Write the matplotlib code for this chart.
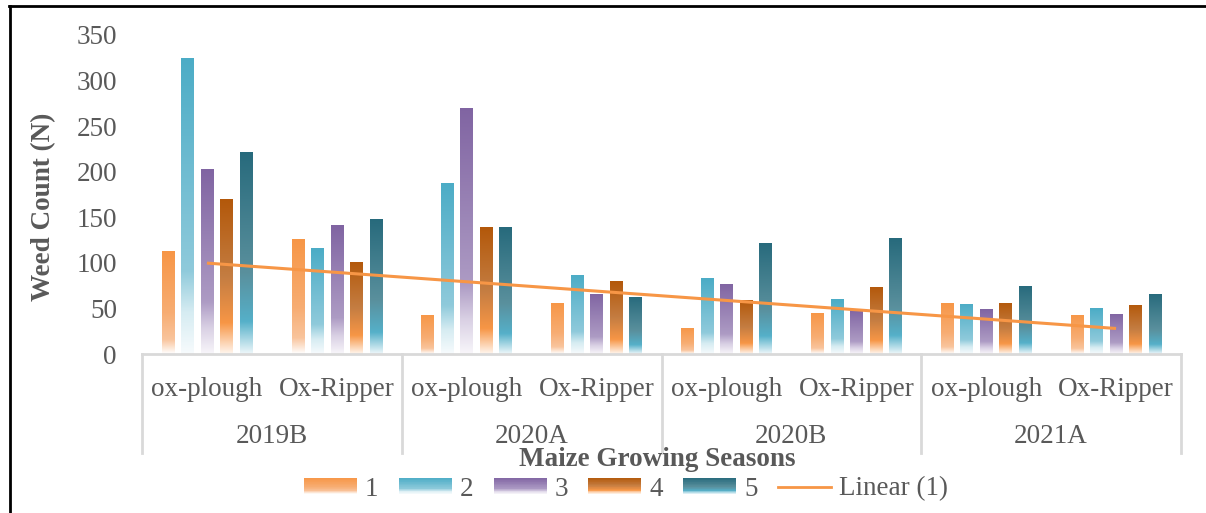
import numpy as np
import matplotlib
matplotlib.use("Agg")
import matplotlib.pyplot as plt
from matplotlib.colors import LinearSegmentedColormap
from matplotlib.lines import Line2D
from matplotlib.patches import Rectangle
from matplotlib.legend_handler import HandlerBase

# ---- data ----
seasons = ["2019B", "2020A", "2020B", "2021A"]
implements = ["ox-plough", "Ox-Ripper"]
series_names = ["1", "2", "3", "4", "5"]
s1 = [113, 126, 43, 56, 29, 45, 56, 43]
s2 = [325, 116, 188, 87, 83, 60, 55, 50]
s3 = [203, 141, 270, 66, 77, 49, 49, 44]
s4 = [170, 101, 139, 80, 59, 74, 56, 54]
s5 = [222, 148, 139, 63, 122, 127, 75, 66]
y_ticks = [0, 50, 100, 150, 200, 250, 300, 350]

series = [s1, s2, s3, s4, s5]

# gradient stops (0 = top of bar, 1 = bottom)
gradients = [
    [(0.0, "#F79646"), (0.6, "#F7AD73"), (0.86, "#F9C49C"), (1.0, "#FFFFFF")],
    [(0.0, "#4BACC6"), (0.72, "#8FCADB"), (0.86, "#D6ECF2"), (1.0, "#F7FBFD")],
    [(0.0, "#8064A2"), (0.72, "#AD9BC4"), (0.86, "#D9D0E4"), (1.0, "#F8F6FA")],
    [(0.0, "#B3580A"), (0.5, "#C47D42"), (0.8, "#F79646"), (1.0, "#FFF6EF")],
    [(0.0, "#276A7C"), (0.6, "#5A909D"), (0.84, "#55B0C9"), (1.0, "#EEF7FA")],
]
cmaps = [LinearSegmentedColormap.from_list(f"g{i}", g) for i, g in enumerate(gradients)]
trend_color = "#F79646"
text_color = "#595959"
axis_color = "#D9D9D9"

plt.rcParams["font.family"] = ["Liberation Serif", "DejaVu Serif"]
FS = 19.5

fig = plt.figure(figsize=(12.06, 5.13), dpi=100)
W, H = 1206, 513
ax = fig.add_axes([142 / W, 1 - 354 / H, (1181 - 142) / W, (354 - 35) / H])

n_cat = len(seasons) * len(implements)
x = np.arange(n_cat)
step = 0.15
width = 0.096
grad = np.linspace(0, 1, 256).reshape(-1, 1)

for j, vals in enumerate(series):
    offs = (j - 2) * step
    bars = ax.bar(x + offs, vals, width=width, color="none", edgecolor="none")
    for rect in bars:
        x0 = rect.get_x()
        h = rect.get_height()
        im = ax.imshow(grad, cmap=cmaps[j], aspect="auto",
                       extent=[x0, x0 + rect.get_width(), 0, h],
                       origin="upper", interpolation="bilinear", zorder=2)
        im.set_clip_path(rect)

# linear trend of series 1
coef = np.polyfit(x, s1, 1)
ax.plot(x, np.polyval(coef, x), color=trend_color, lw=2.2, zorder=3,
        solid_capstyle="butt")

ax.set_xlim(-0.5, n_cat - 0.5)
ax.set_ylim(0, 350)
ax.set_yticks(y_ticks)
ax.tick_params(axis="y", length=0, pad=18, labelsize=FS, labelcolor=text_color)
ax.set_xticks([])
for side in ["top", "right", "left"]:
    ax.spines[side].set_visible(False)
ax.spines["bottom"].set_color(axis_color)
ax.spines["bottom"].set_linewidth(2)

# multi-level category labels
trans = ax.get_xaxis_transform()
px = 1 / (354 - 35)
for i in range(n_cat):
    ax.text(i, -(389 - 354) * px, implements[i % 2], transform=trans,
            ha="center", va="center", fontsize=FS, color=text_color)
for k, s in enumerate(seasons):
    ax.text(2 * k + 0.5, -(437 - 354) * px, s, transform=trans,
            ha="center", va="center", fontsize=FS, color=text_color)
for b in np.arange(len(seasons) + 1) * 2 - 0.5:
    ax.plot([b, b], [0, -(453 - 354) * px], transform=trans, color=axis_color,
            lw=2, clip_on=False)

ax.set_ylabel("Weed Count (N)", fontsize=FS, fontweight="bold", color=text_color)
ax.yaxis.set_label_coords(-(142 - 56) / (1181 - 142), 0.46)

fig.text(657 / W, 1 - 460 / H, "Maize Growing Seasons", ha="center", va="center",
         fontsize=FS, fontweight="bold", color=text_color)


# legend with gradient swatches
class GradientHandler(HandlerBase):
    def __init__(self, cmap):
        super().__init__()
        self.cmap = cmap

    def create_artists(self, legend, orig_handle, xdescent, ydescent, width,
                       height, fontsize, trans):
        n = 24
        arts = []
        for k in range(n):
            frac = (k + 0.5) / n
            arts.append(Rectangle((-xdescent, -ydescent + height * (1 - (k + 1) / n)),
                                  width, height / n + 0.3,
                                  facecolor=self.cmap(frac), edgecolor="none",
                                  transform=trans))
        return arts


handles = [Rectangle((0, 0), 1, 1) for _ in series_names]
hmap = {h: GradientHandler(cmaps[i]) for i, h in enumerate(handles)}
line_h = Line2D([], [], color=trend_color, lw=2)
leg = fig.legend(handles + [line_h], series_names + ["Linear (1)"],
                 handler_map=hmap, loc="center", bbox_to_anchor=(626 / W, 1 - 489 / H),
                 ncol=6, frameon=False, fontsize=FS, handlelength=1.95,
                 handleheight=0.5, handletextpad=0.3, columnspacing=0.75,
                 labelcolor=text_color, borderpad=0)

# outer frame (left and top edges)
fig.add_artist(Line2D([9.5 / W, 9.5 / W], [0, 1 - 6 / H], color="black", lw=2,
                      transform=fig.transFigure))
fig.add_artist(Line2D([8.5 / W, 1], [1 - 6 / H, 1 - 6 / H], color="black", lw=2,
                      transform=fig.transFigure))

fig.savefig("out.png", dpi=100)
